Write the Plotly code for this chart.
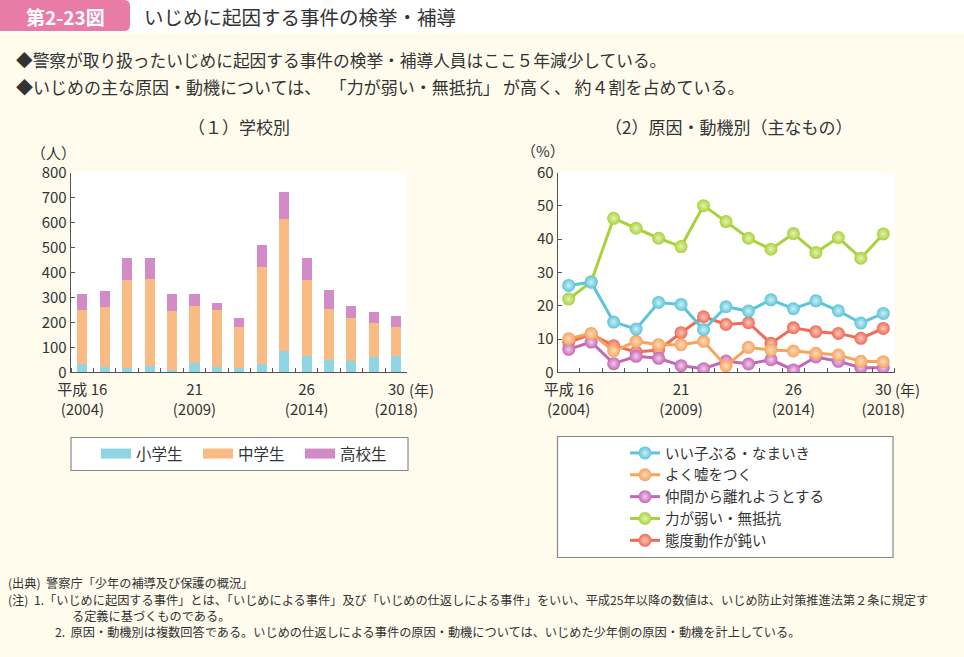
import plotly.graph_objects as go

# ---------------- data ----------------
years = list(range(2004, 2019))
elem = [35, 23, 17, 25, 8, 37, 23, 19, 35, 87, 67, 48, 44, 63, 67]
middle = [216, 240, 351, 349, 236, 229, 228, 161, 386, 527, 301, 204, 174, 133, 113]
high = [64, 61, 91, 83, 68, 46, 28, 38, 88, 110, 89, 78, 48, 47, 47]

ii_ko = [26.1, 27.1, 15.1, 13.0, 21.0, 20.4, 12.8, 19.7, 18.4, 21.8, 19.1, 21.5, 18.5, 14.8, 17.7]
uso = [10.1, 11.7, 6.4, 9.3, 8.3, 8.3, 9.3, 1.9, 7.5, 6.7, 6.4, 5.7, 5.2, 3.3, 3.2]
nakama = [6.9, 9.1, 2.6, 4.8, 4.2, 2.0, 1.1, 3.4, 2.5, 3.8, 0.7, 4.6, 3.3, 1.4, 1.4]
chikara = [22.0, 27.2, 46.3, 43.3, 40.3, 37.8, 50.1, 45.3, 40.3, 37.0, 41.7, 36.0, 40.5, 34.3, 41.6]
taido = [9.0, 11.4, 8.0, 6.1, 6.7, 11.9, 16.7, 14.4, 14.9, 8.7, 13.4, 12.2, 11.7, 10.2, 13.2]

x_idx = list(range(len(years)))
tick_pos = [0, 5, 10, 14]
tick_text = ["平成 16<br>(2004)", "21<br>(2009)", "26<br>(2014)", "30<br>(2018)"]

W, H = 964, 657
FONT = "Noto Sans CJK JP"
TXT = "#333333"
CREAM = "#FFFCEE"


def px(x):
    return x / W


def py(y):
    return 1 - y / H


fig = go.Figure()

# ---------------- bars ----------------
bar_specs = [("小学生", elem, "#8FD5E3"), ("中学生", middle, "#F9BB83"), ("高校生", high, "#D28BC7")]
for name, vals, col in bar_specs:
    fig.add_trace(go.Bar(x=x_idx, y=vals, name=name, marker=dict(color=col, line=dict(width=0)),
                         width=0.45, xaxis="x", yaxis="y", legendgroup=name, showlegend=False))
    # wide legend swatch for the bar series
    fig.add_trace(go.Scatter(x=[None], y=[None], name=name, mode="lines",
                             line=dict(color=col, width=12), xaxis="x", yaxis="y",
                             legendgroup=name, legend="legend"))

# ---------------- lines ----------------
line_specs = [
    ("態度動作が鈍い", taido, "#EF6B55", "#FBC9BE", 5),
    ("仲間から離れようとする", nakama, "#C567B7", "#EECDEA", 3),
    ("よく嘘をつく", uso, "#F7A35C", "#FDDDBF", 2),
    ("力が弱い・無抵抗", chikara, "#A9D23A", "#E3F2B6", 4),
    ("いい子ぶる・なまいき", ii_ko, "#5CC5D9", "#CDEFF6", 1),
]
for name, vals, col, light, rank in line_specs:
    fig.add_trace(go.Scatter(
        x=x_idx, y=vals, name=name, mode="lines+markers",
        line=dict(color=col, width=3),
        marker=dict(size=13, color=col, gradient=dict(type="radial", color=light), line=dict(width=0)),
        xaxis="x2", yaxis="y2", legend="legend2", legendrank=rank))

axis_common = dict(showline=True, linecolor="#555555", linewidth=1, showgrid=False, zeroline=False,
                   tickfont=dict(family=FONT, size=15, color=TXT))

fig.update_layout(
    width=W, height=H,
    margin=dict(l=0, r=0, t=0, b=0, autoexpand=False),
    paper_bgcolor=CREAM,
    plot_bgcolor="#FFFFFF",
    barmode="stack",
    font=dict(family=FONT, color=TXT),
    xaxis=dict(domain=[px(70.7), px(407)], range=[-0.52, 14.48], anchor="y",
               tickmode="array", tickvals=tick_pos, ticktext=tick_text, ticks="",
               ticklabelstandoff=4,
               minor=dict(tick0=0.5, dtick=1, ticks="inside", ticklen=4, tickcolor="#555555"),
               **axis_common),
    yaxis=dict(domain=[py(372.3), py(172.7)], range=[0, 800], dtick=100, anchor="x",
               ticks="inside", ticklen=4, tickcolor="#555555", **axis_common),
    xaxis2=dict(domain=[px(557.7), px(895)], range=[-0.49, 14.52], anchor="y2",
                tickmode="array", tickvals=tick_pos, ticktext=tick_text, ticks="",
                ticklabelstandoff=4,
                minor=dict(tick0=0.5, dtick=1, ticks="inside", ticklen=4, tickcolor="#555555"),
                **axis_common),
    yaxis2=dict(domain=[py(372.3), py(172.7)], range=[0, 60], dtick=10, anchor="x2",
                ticks="inside", ticklen=4, tickcolor="#555555", **axis_common),
    legend=dict(orientation="h", x=px(96), y=py(454), xanchor="left", yanchor="middle",
                bgcolor="rgba(0,0,0,0)", borderwidth=0, entrywidth=57,
                font=dict(family=FONT, size=15.5, color=TXT), traceorder="normal"),
    legend2=dict(orientation="v", x=px(625), y=py(437), xanchor="left", yanchor="top",
                 bgcolor="rgba(0,0,0,0)", borderwidth=0, tracegroupgap=0,
                 font=dict(family=FONT, size=14.5, color=TXT)),
    showlegend=True,
)

shapes = [
    dict(type="rect", xref="paper", yref="paper", x0=0, x1=1, y0=py(33), y1=1,
         fillcolor="#FFFFFF", line=dict(width=0), layer="below"),
    dict(type="rect", xref="paper", yref="paper", x0=px(71), x1=px(408), y0=py(470.5), y1=py(437.5),
         fillcolor="#FFFFFF", line=dict(color="#888888", width=1.2), layer="below"),
    dict(type="rect", xref="paper", yref="paper", x0=px(557.5), x1=px(893), y0=py(557.5), y1=py(436.5),
         fillcolor="#FFFFFF", line=dict(color="#888888", width=1.2), layer="below"),
    dict(type="path", xref="paper", yref="paper",
         path=f"M 0 {py(0)} L {px(124)} {py(0)} Q {px(130)} {py(0)} {px(130)} {py(6)} "
              f"L {px(130)} {py(25)} Q {px(130)} {py(31)} {px(124)} {py(31)} L 0 {py(31)} Z",
         fillcolor="#E97BA7", line=dict(width=0)),
]
fig.update_layout(shapes=shapes)


def ann(text, x, y, size, xanchor="left", color=TXT, family=FONT, **kw):
    fig.add_annotation(text=text, x=px(x), y=py(y), xref="paper", yref="paper",
                       xanchor=xanchor, yanchor="middle", showarrow=False, align=xanchor,
                       font=dict(family=family, size=size, color=color), **kw)


ann("<b>第2-23図</b>", 65, 16, 19, xanchor="center", color="#FFFFFF")
ann("いじめに起因する事件の検挙・補導", 142, 16, 19.5)
ann("◆警察が取り扱ったいじめに起因する事件の検挙・補導人員はここ５年減少している。", 14, 60, 16.7)
ann("◆いじめの主な原因・動機については、\u2002「力が弱い・無抵抗」\u2009が高く、\u2009約４割を占めている。",
    14, 86, 17)
ann("（１）学校別", 239, 127, 17, xanchor="center")
ann("（2）原因・動機別（主なもの）", 728, 127, 17, xanchor="center")
ann("（人）", 53, 152, 15, xanchor="center")
ann("（%）", 543, 151, 15, xanchor="center")
ann("(年)", 407, 389, 15)
ann("(年)", 893, 389, 15)

ann("(出典)  警察庁「少年の補導及び保護の概況」", 6, 583, 12.2)
ann("(注)  1.「いじめに起因する事件」とは、「いじめによる事件」及び「いじめの仕返しによる事件」をいい、平成25年以降の数値は、いじめ防止対策推進法第２条に規定す",
    6, 600, 12.2)
ann("る定義に基づくものである。", 70, 616, 12.2)
ann("2.  原因・動機別は複数回答である。いじめの仕返しによる事件の原因・動機については、いじめた少年側の原因・動機を計上している。", 53, 632, 12.2)

fig.write_html("out.html", config={"displayModeBar": False},
               post_script="document.body.style.margin='0px';document.body.style.padding='0px';")
